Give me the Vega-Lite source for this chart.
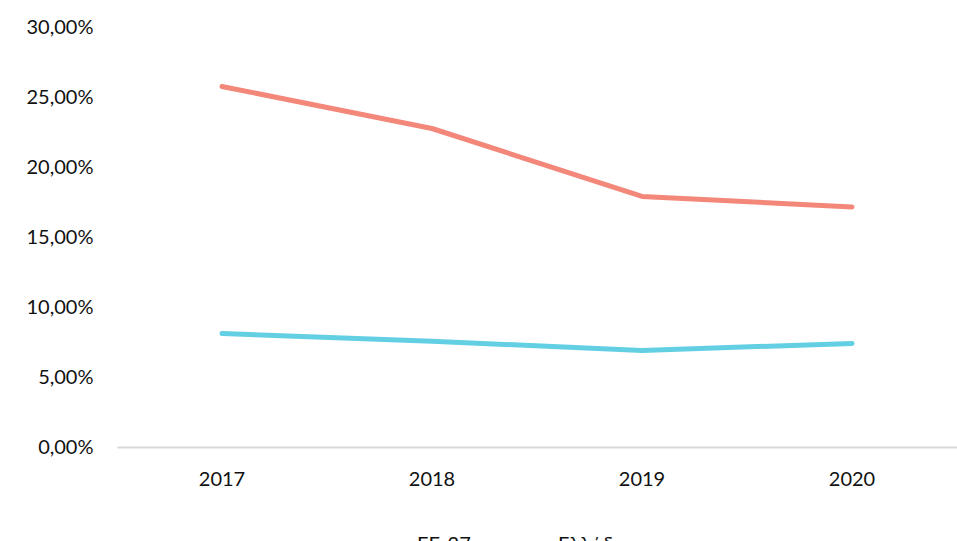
{
  "$schema": "https://vega.github.io/schema/vega-lite/v6.json",
  "autosize": "none",
  "padding": {"left": 117, "top": 27, "right": 0, "bottom": 94},
  "width": 840,
  "height": 420,
  "background": "white",
  "data": {
    "values": [
      {"year": "2017", "series": "EE-27", "value": 8.1},
      {"year": "2018", "series": "EE-27", "value": 7.55},
      {"year": "2019", "series": "EE-27", "value": 6.9},
      {"year": "2020", "series": "EE-27", "value": 7.4},
      {"year": "2017", "series": "Ελλάδα", "value": 25.75},
      {"year": "2018", "series": "Ελλάδα", "value": 22.75},
      {"year": "2019", "series": "Ελλάδα", "value": 17.9},
      {"year": "2020", "series": "Ελλάδα", "value": 17.15}
    ]
  },
  "mark": {"type": "line", "strokeWidth": 5, "strokeCap": "round", "strokeJoin": "round"},
  "encoding": {
    "x": {
      "field": "year", "type": "ordinal", "title": null,
      "scale": {"type": "band", "paddingInner": 0, "paddingOuter": 0},
      "axis": {"labelAngle": 0, "ticks": false, "domainColor": "#d9d9d9", "domainWidth": 2, "labelFontSize": 20, "labelPadding": 22, "labelColor": "#111", "labelFont": "Lato"}
    },
    "y": {
      "field": "value", "type": "quantitative", "title": null,
      "scale": {"domain": [0, 30]},
      "axis": {"values": [0, 5, 10, 15, 20, 25, 30], "grid": false, "domain": false, "ticks": false, "labelFontSize": 20, "labelPadding": 24, "labelColor": "#111", "labelFont": "Lato",
        "labelExpr": "replace(format(datum.value, '.2f'), '.', ',') + '%'"}
    },
    "color": {
      "field": "series", "type": "nominal",
      "scale": {"domain": ["EE-27", "Ελλάδα"], "range": ["#62D0E2", "#F2877A"]},
      "legend": {"title": null, "orient": "none", "direction": "horizontal", "legendX": 236, "legendY": 490,
        "symbolType": "stroke", "symbolSize": 2500, "symbolStrokeWidth": 6, "labelFontSize": 20, "labelFont": "Lato", "labelColor": "#111", "columnPadding": 14, "labelOffset": 8}
    }
  },
  "config": {"view": {"stroke": null}}
}
